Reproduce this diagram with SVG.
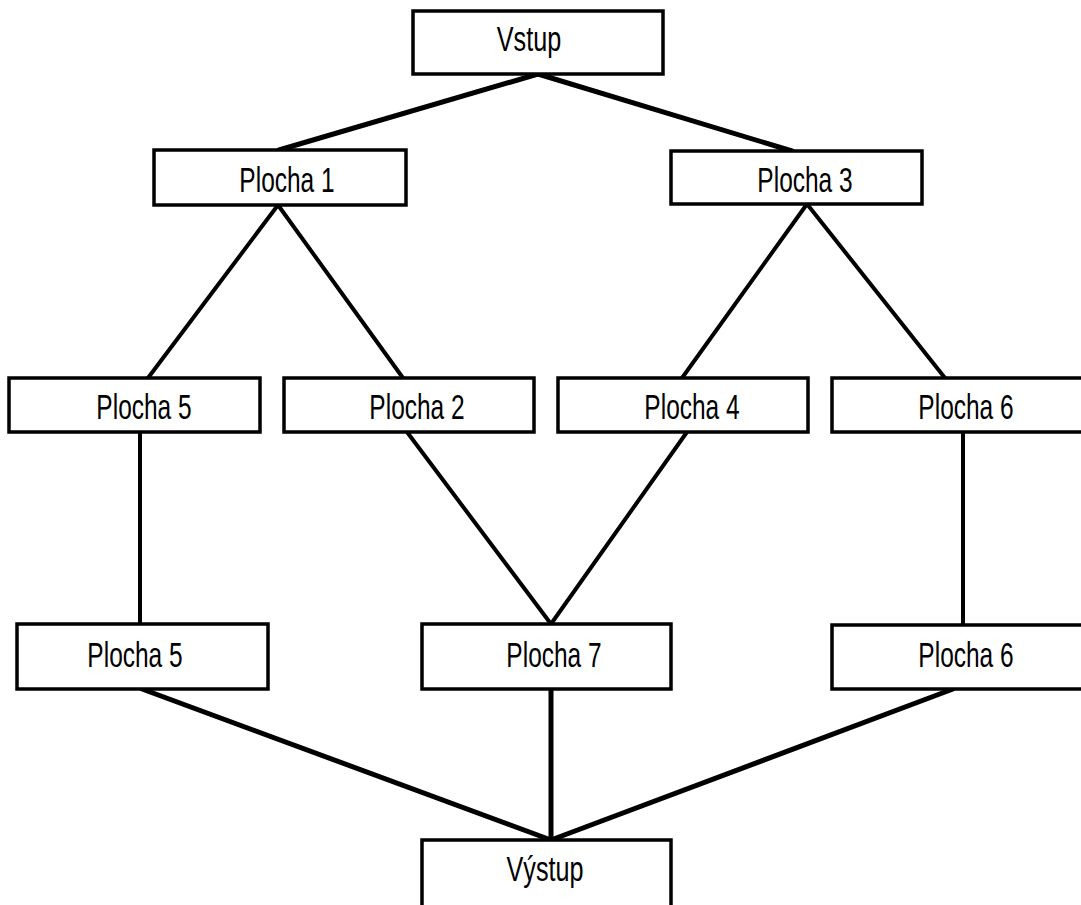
<svg xmlns="http://www.w3.org/2000/svg" width="1081" height="905" viewBox="0 0 1081 905">
  <style>
    .box { fill: #ffffff; stroke: #000000; stroke-width: 3.5; }
    .lbl { font-family: "Liberation Sans", Arial, sans-serif; font-size: 35px; fill: #000000; text-anchor: middle; }
    .edge { stroke: #000000; fill: none; stroke-linecap: round; }
    .thick { stroke-width: 5; }
    .thin { stroke-width: 4; }
  </style>
  <rect width="1081" height="905" fill="#ffffff"/>

  <!-- connectors -->
  <g id="connectors">
    <line class="edge thick" x1="538" y1="74" x2="279" y2="150"/>
    <line class="edge thick" x1="538" y1="74" x2="792" y2="151"/>
    <line class="edge thin" x1="278" y1="205" x2="148" y2="378"/>
    <line class="edge thin" x1="278" y1="205" x2="403" y2="378"/>
    <line class="edge thin" x1="807" y1="204" x2="682" y2="378"/>
    <line class="edge thin" x1="807" y1="204" x2="945" y2="378"/>
    <line class="edge thin" x1="140" y1="432" x2="140" y2="624"/>
    <line class="edge thin" x1="407" y1="432" x2="551" y2="624"/>
    <line class="edge thin" x1="687" y1="432" x2="551" y2="624"/>
    <line class="edge thin" x1="963" y1="432" x2="963" y2="624"/>
    <line class="edge thick" x1="142" y1="689" x2="551" y2="840"/>
    <line class="edge thick" x1="551" y1="689" x2="551" y2="840"/>
    <line class="edge thick" x1="953" y1="689" x2="551" y2="840"/>
  </g>

  <!-- nodes -->
  <g id="vstup">
    <rect class="box" x="413" y="11" width="250" height="63"/>
    <text class="lbl" transform="translate(529,51) scale(0.72,1)">Vstup</text>
  </g>
  <g id="plocha1">
    <rect class="box" x="154" y="150" width="252" height="55"/>
    <text class="lbl" transform="translate(287,192) scale(0.7,1)">Plocha 1</text>
  </g>
  <g id="plocha3">
    <rect class="box" x="671" y="151" width="251" height="53"/>
    <text class="lbl" transform="translate(805,192) scale(0.7,1)">Plocha 3</text>
  </g>
  <g id="plocha5a">
    <rect class="box" x="9" y="378" width="251" height="54"/>
    <text class="lbl" transform="translate(144,419) scale(0.7,1)">Plocha 5</text>
  </g>
  <g id="plocha2">
    <rect class="box" x="284" y="378" width="250" height="54"/>
    <text class="lbl" transform="translate(417,419) scale(0.7,1)">Plocha 2</text>
  </g>
  <g id="plocha4">
    <rect class="box" x="558" y="378" width="250" height="54"/>
    <text class="lbl" transform="translate(692,419) scale(0.7,1)">Plocha 4</text>
  </g>
  <g id="plocha6a">
    <rect class="box" x="832" y="378" width="252" height="54"/>
    <text class="lbl" transform="translate(966,419) scale(0.7,1)">Plocha 6</text>
  </g>
  <g id="plocha5b">
    <rect class="box" x="17" y="624" width="251" height="65"/>
    <text class="lbl" transform="translate(135,667) scale(0.7,1)">Plocha 5</text>
  </g>
  <g id="plocha7">
    <rect class="box" x="422" y="624" width="249" height="65"/>
    <text class="lbl" transform="translate(554,667) scale(0.7,1)">Plocha 7</text>
  </g>
  <g id="plocha6b">
    <rect class="box" x="832" y="625" width="252" height="64"/>
    <text class="lbl" transform="translate(966,667) scale(0.7,1)">Plocha 6</text>
  </g>
  <g id="vystup">
    <rect class="box" x="422" y="840" width="249" height="70"/>
    <text class="lbl" transform="translate(545,881) scale(0.72,1)">Výstup</text>
  </g>
</svg>
